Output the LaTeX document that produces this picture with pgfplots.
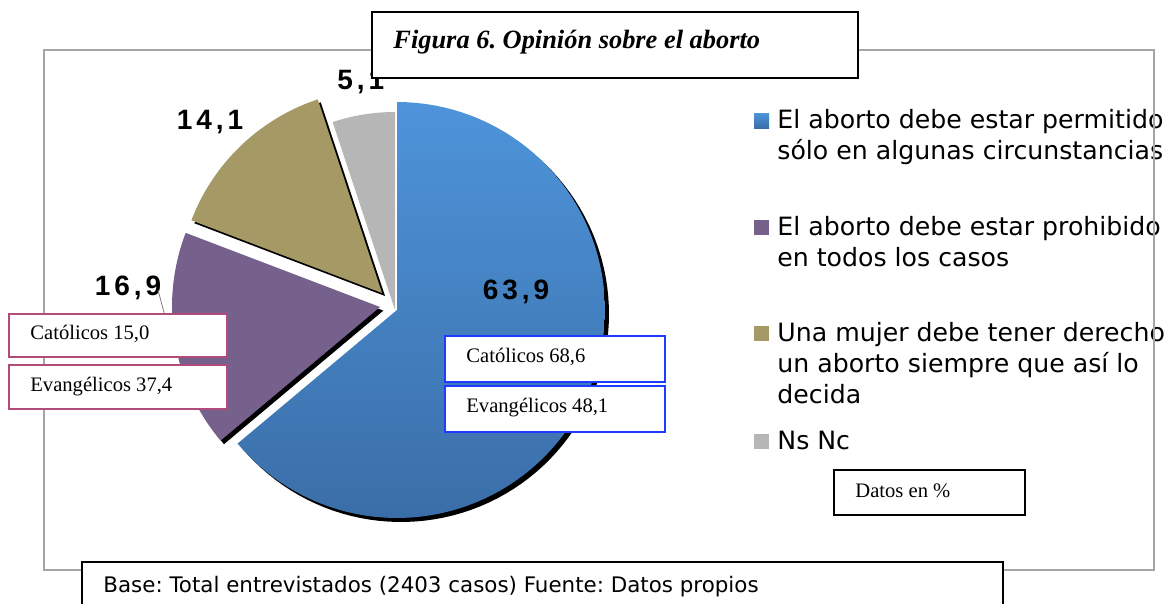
\documentclass[border=0pt]{standalone}
\usepackage{fontspec}
\setmainfont{Liberation Serif}
\newfontfamily\dv{DejaVu Sans}
\newfontfamily\numf[LetterSpace=14]{Liberation Sans}
\usepackage{pgfplots}
\pgfplotsset{compat=1.18}

\definecolor{pblueT}{RGB}{78,148,218}
\definecolor{pblueB}{RGB}{58,110,168}
\definecolor{ppurp}{RGB}{118,96,140}
\definecolor{polive}{RGB}{165,154,102}
\definecolor{pgray}{RGB}{182,182,182}
\definecolor{boxred}{RGB}{178,74,122}
\definecolor{boxblue}{RGB}{30,60,255}
\definecolor{framegray}{RGB}{165,165,165}

% percentages (clockwise from 12 o'clock)
\def\vA{63.9} % permitido en algunas circunstancias
\def\vB{16.9} % prohibido
\def\vC{14.1} % derecho
\def\vD{5.1}  % Ns Nc
\pgfmathsetmacro\aA{90-3.6*\vA}
\pgfmathsetmacro\aB{\aA-3.6*\vB}
\pgfmathsetmacro\aC{\aB-3.6*\vC}
\pgfmathsetmacro\aD{\aC-3.6*\vD}

\begin{document}
\frenchspacing
\begin{tikzpicture}
\begin{scope}[x=0.5pt,y=-0.5pt]
\useasboundingbox (0,0) rectangle (1168,604);
\end{scope}

\begin{axis}[
    at={(0pt,-302pt)}, anchor=south west,
    scale only axis, width=584pt, height=302pt,
    xmin=-397, xmax=771, ymin=-294, ymax=310,
    hide axis, clip=false,
    every axis plot/.append style={data cs=polar, samples=90, draw=none},
]
% shadows
\addplot[fill=black, domain=\aA:90, xshift=2pt, yshift=-2pt] {208} -- (axis cs:0,0) -- cycle;
\addplot[fill=black, domain=\aB:\aA, xshift=-6.8pt, yshift=-0.3pt] {208} -- (axis cs:0,0) -- cycle;
\addplot[fill=black, domain=\aC:\aB, xshift=-6pt, yshift=7pt] {204} -- (axis cs:0,0) -- cycle;
% slices
\addplot[top color=pblueT, bottom color=pblueB, domain=\aA:90] {208} -- (axis cs:0,0) -- cycle;
\addplot[fill=ppurp, domain=\aB:\aA, xshift=-8.5pt, yshift=1.5pt] {208} -- (axis cs:0,0) -- cycle;
\addplot[fill=polive, domain=\aC:\aB, xshift=-7.5pt, yshift=8.5pt] {204} -- (axis cs:0,0) -- cycle;
\addplot[fill=pgray, domain=\aD:\aC, xshift=-1pt, yshift=0pt] {198} -- (axis cs:0,0) -- cycle;
\end{axis}

\begin{scope}[x=0.5pt,y=-0.5pt]
% legend
\fill[top color=pblueT, bottom color=pblueB] (754,113) rectangle (769,128);
\fill[ppurp] (754,220) rectangle (769,235);
\fill[polive] (754,326) rectangle (769,341);
\fill[pgray] (754,434) rectangle (769,449);
\begin{scope}[every node/.style={anchor=base west, inner sep=0pt, font=\dv\fontsize{12.6}{15}\selectfont}]
\node at (777,128) {El aborto debe estar permitido};
\node at (777,159) {sólo en algunas circunstancias};
\node at (777,235) {El aborto debe estar prohibido};
\node at (777,266) {en todos los casos};
\node at (777,341) {Una mujer debe tener derecho};
\node at (777,372) {un aborto siempre que así lo};
\node at (777,403) {decida};
\node at (777,449) {Ns Nc};
\end{scope}
% frame
\draw[framegray, line width=1pt] (44,50) rectangle (1154,570);
% value labels
\begin{scope}[every node/.style={inner sep=0pt, font=\numf\bfseries\fontsize{14}{16}\selectfont}]
\node at (516,292) {63,9};
\node at (210,122) {14,1};
\node at (128,288) {16,9};
\node[anchor=west] at (337,82) {5,1};
\end{scope}
\draw[gray, line width=0.4pt] (158,290) -- (165,316);
% breakdown boxes
\begin{scope}[every node/.style={anchor=base west, inner sep=0pt, font=\fontsize{10.3}{12}\selectfont}]
\draw[boxred, line width=0.8pt, fill=white] (9,314) rectangle (227,357);
\draw[boxred, line width=0.8pt, fill=white] (9,365) rectangle (227,409);
\node at (30,339) {Católicos 15,0};
\node at (30,391) {Evangélicos 37,4};
\draw[boxblue, line width=0.9pt, fill=white] (445,336) rectangle (665,382);
\draw[boxblue, line width=0.9pt, fill=white] (445,386) rectangle (665,432);
\node at (466,362) {Católicos 68,6};
\node at (466,412) {Evangélicos 48,1};
\draw[black, line width=0.8pt, fill=white] (834,470) rectangle (1025,515);
\node at (855,497) {Datos en \%};
\end{scope}
% title
\draw[black, line width=1pt, fill=white] (372,12) rectangle (858,78);
\node[anchor=base west, inner sep=0pt, font=\bfseries\itshape\fontsize{13.2}{15}\selectfont] at (393,48) {Figura 6. Opinión sobre el aborto};
% source (box runs off the bottom edge)
\fill[white] (82,562) rectangle (1003,604);
\draw[black, line width=1pt] (82,604) -- (82,562) -- (1003,562) -- (1003,604);
\node[anchor=base west, inner sep=0pt, font=\dv\fontsize{10.7}{12}\selectfont] at (103,592) {Base: Total entrevistados (2403 casos) Fuente: Datos propios};
\end{scope}
\end{tikzpicture}
\end{document}
